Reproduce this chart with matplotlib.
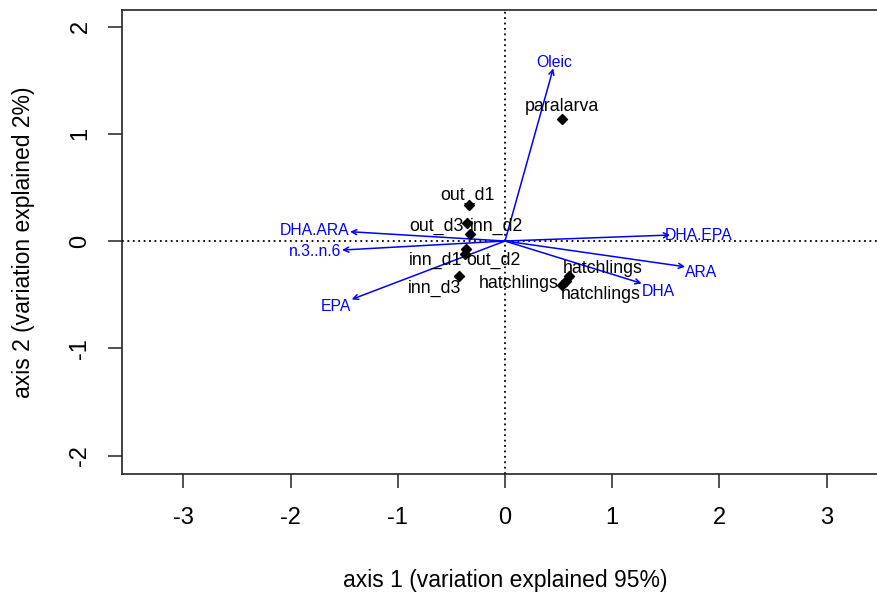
import numpy as np
import matplotlib
matplotlib.use("Agg")
import matplotlib.pyplot as plt

plt.rcParams['font.family'] = ['Liberation Sans', 'DejaVu Sans']

# samples (site scores)
samples = ["paralarva", "out_d1", "out_d3", "inn_d2", "inn_d1", "out_d2",
           "inn_d3", "hatchlings", "hatchlings", "hatchlings"]
samp_x = [0.53, -0.34, -0.35, -0.33, -0.36, -0.37, -0.43, 0.60, 0.57, 0.53]
samp_y = [1.14, 0.34, 0.165, 0.07, -0.075, -0.12, -0.33, -0.33, -0.37, -0.41]
# where the sample names were written
lab_x = [0.53, -0.35, -0.64, -0.08, -0.65, -0.11, -0.66, 0.915, 0.13, 0.895]
lab_y = [1.25, 0.43, 0.14, 0.14, -0.185, -0.185, -0.44, -0.255, -0.40, -0.495]

# fatty acid vectors
acids = ["Oleic", "DHA.ARA", "n.3..n.6", "EPA", "DHA.EPA", "ARA", "DHA"]
vec_x = [0.45, -1.445, -1.52, -1.43, 1.54, 1.68, 1.275]
vec_y = [1.61, 0.087, -0.084, -0.544, 0.056, -0.24, -0.395]
acid_lx = [0.463, -1.78, -1.77, -1.576, 1.81, 1.828, 1.43]
acid_ly = [1.666, 0.096, -0.10, -0.613, 0.05, -0.289, -0.47]

xticks = [-3, -2, -1, 0, 1, 2, 3]
yticks = [-2, -1, 0, 1, 2]

fig = plt.figure(figsize=(8.77, 5.92), dpi=100)
ax = fig.add_axes([122/877, 118/592, 766/877, 464/592])
ax.set_xlim(-3.573, 3.573)
ax.set_ylim(-2.172, 2.154)

ax.axhline(0, color='black', ls=(0, (1, 2)), lw=1.3)
ax.axvline(0, color='black', ls=(0, (1, 2)), lw=1.3)

for i in range(len(acids)):
    ax.annotate("", xy=(vec_x[i], vec_y[i]), xytext=(0, 0),
                arrowprops=dict(arrowstyle='->', color='#0000ff', lw=1.1,
                                mutation_scale=9, shrinkA=0, shrinkB=0))
    ax.text(acid_lx[i], acid_ly[i], acids[i], color='#0000ff', fontsize=11.3,
            ha='center', va='center')

ax.scatter(samp_x, samp_y, marker='D', s=26, color='black', zorder=3)
for i in range(len(samples)):
    ax.text(lab_x[i], lab_y[i], samples[i], color='black', fontsize=12.8,
            ha='center', va='center')

ax.set_xticks(xticks)
ax.set_yticks(yticks)
ax.set_xticklabels([str(t) for t in xticks])
ax.set_yticklabels([str(t) for t in yticks], rotation=90, va='center')
ax.tick_params(axis='both', length=10, width=1.1, labelsize=17, color='#222222')
ax.tick_params(axis='x', pad=14)
ax.tick_params(axis='y', pad=12)
for s in ax.spines.values():
    s.set_linewidth(1.2)
    s.set_color('#222222')

ax.set_xlabel("axis 1 (variation explained 95%)", fontsize=16.5)
ax.set_ylabel("axis 2 (variation explained 2%)", fontsize=16.5)
ax.xaxis.set_label_coords(0.5, (474 - 581) / 464)
ax.xaxis.label.set_va('center')
ax.yaxis.set_label_coords((24 - 122) / 766, 0.5)
ax.yaxis.label.set_va('center')

fig.savefig("out.png", dpi=100)
